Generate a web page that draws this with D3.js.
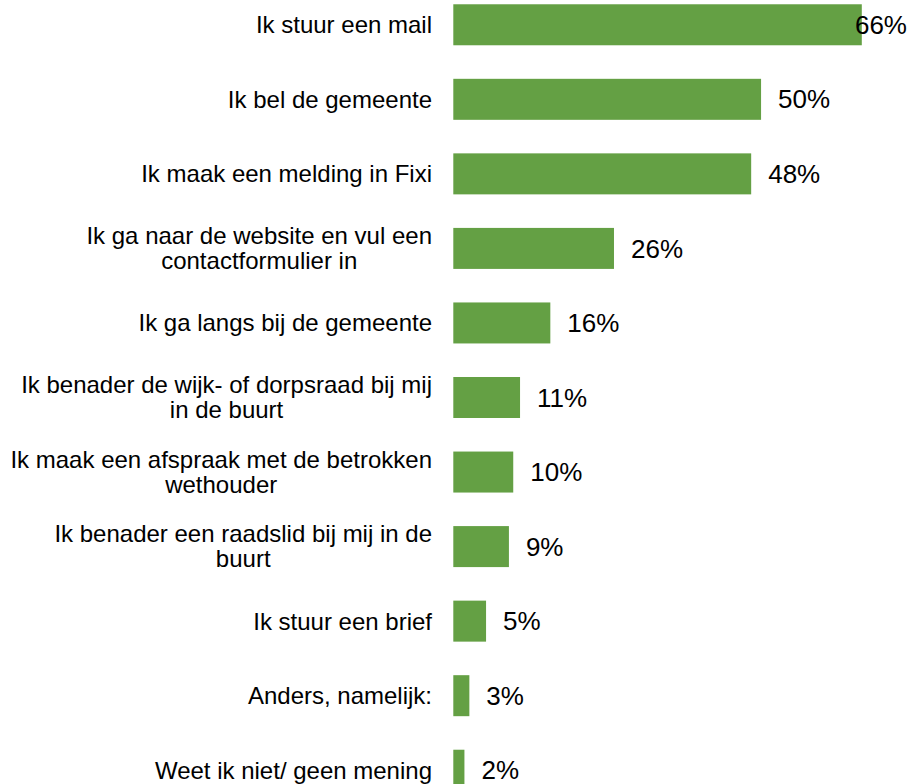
<!DOCTYPE html>
<html>
<head>
<meta charset="utf-8">
<script src="https://cdn.jsdelivr.net/npm/d3@7"></script>
<style>
  html, body { margin: 0; padding: 0; background: #fff; overflow: hidden; }
  svg { display: block; }
</style>
</head>
<body>
<div id="chart"></div>
<script>
const categories = [
  "Ik stuur een mail",
  "Ik bel de gemeente",
  "Ik maak een melding in Fixi",
  "Ik ga naar de website en vul een contactformulier in",
  "Ik ga langs bij de gemeente",
  "Ik benader de wijk- of dorpsraad bij mij in de buurt",
  "Ik maak een afspraak met de betrokken wethouder",
  "Ik benader een raadslid bij mij in de buurt",
  "Ik stuur een brief",
  "Anders, namelijk:",
  "Weet ik niet/ geen mening"
];
const values = [66.1, 49.8, 48.2, 26.0, 15.7, 10.8, 9.7, 9.0, 5.3, 2.6, 1.8];

const W = 911, H = 784;
const barLeft = 453.3;
const labelRight = 432;
const plotRight = 907;

const svg = d3.select("#chart").append("svg")
  .attr("width", W).attr("height", H)
  .style("font-family", "Arial, 'Liberation Sans', sans-serif");

const x = d3.scaleLinear().domain([0, 100]).range([barLeft, barLeft + 618]);
const y = d3.scaleBand().domain(categories).range([-12.5, 807.5])
  .paddingInner(0.45).paddingOuter(0.225);

svg.selectAll("rect.bar").data(categories).join("rect")
  .attr("class", "bar")
  .attr("x", x(0))
  .attr("y", d => y(d))
  .attr("width", (d, i) => x(values[i]) - x(0))
  .attr("height", y.bandwidth())
  .attr("fill", "#64a044");

// value labels
svg.selectAll("text.val").data(categories).join("text")
  .attr("class", "val")
  .attr("y", d => y(d) + y.bandwidth() / 2)
  .attr("dy", "0.35em")
  .style("font-size", "26px")
  .attr("fill", "#000")
  .text((d, i) => Math.round(values[i]) + "%")
  .each(function (d, i) {
    const w = this.getComputedTextLength();
    this.setAttribute("x", Math.min(x(values[i]) + 17, plotRight - w));
  });

// category labels (wrapped, centered block, right-aligned to axis)
const maxW = 425, lineH = 25;
categories.forEach((cat, i) => {
  const g = svg.append("g");
  const words = cat.split(" ");
  const lines = [];
  let cur = [];
  const probe = g.append("text").style("font-size", "24px");
  words.forEach(w => {
    const test = cur.concat([w]).join(" ");
    probe.text(test);
    if (probe.node().getComputedTextLength() > maxW && cur.length) {
      lines.push(cur.join(" "));
      cur = [w];
    } else {
      cur.push(w);
    }
  });
  lines.push(cur.join(" "));
  probe.remove();
  const t = g.append("text").style("font-size", "24px").attr("fill", "#000")
    .attr("text-anchor", "middle");
  const cy = y(cat) + y.bandwidth() / 2;
  const spans = lines.map((l, k) => t.append("tspan").text(l)
    .attr("y", cy + (k - (lines.length - 1) / 2) * lineH)
    .attr("dy", "0.35em"));
  let mw = 0;
  spans.forEach(s => { mw = Math.max(mw, s.node().getComputedTextLength()); });
  spans.forEach(s => s.attr("x", labelRight - mw / 2));
});
</script>
</body>
</html>
